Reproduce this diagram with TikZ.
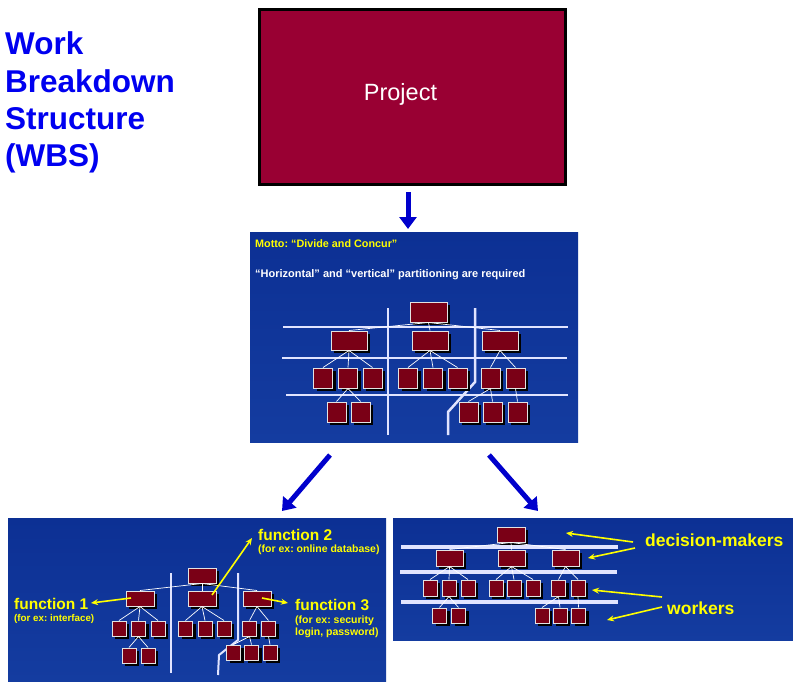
\documentclass[tikz,border=0pt]{standalone}
\usepackage{fontspec}
\setmainfont{Liberation Sans}
\usetikzlibrary{arrows.meta}
\frenchspacing

\definecolor{titleblue}{RGB}{0,0,240}
\definecolor{projred}{RGB}{153,0,51}
\definecolor{boxred}{RGB}{122,0,22}
\definecolor{slideblue}{RGB}{20,60,160}
\definecolor{slidetop}{RGB}{12,48,148}
\definecolor{arrowblue}{RGB}{0,0,204}
\definecolor{labelyellow}{RGB}{255,255,0}
\definecolor{gridline}{RGB}{225,228,255}

\tikzset{
  wbox/.style={draw=white!78!gray, line width=1pt, fill=boxred, inner sep=0pt,
    preaction={fill=black, transform canvas={shift={(3pt,-3pt)}}}},
  conn/.style={draw=white, line width=0.7pt},
  pline/.style={draw=gridline, line width=2.5pt},
  panel/.style={top color=slidetop, bottom color=slideblue, draw=none, inner sep=0pt, anchor=north west},
  bigarrow/.style={draw=arrowblue, line width=5pt, -{Triangle[width=17pt,length=12pt]}},
  yarrow/.style={draw=labelyellow, line width=1.6pt, -{Stealth[width=6pt,length=7pt]}},
  txt/.style={anchor=base west, inner sep=0pt},
  ylab/.style={txt, text=labelyellow, font=\fontsize{15.5}{18}\selectfont\bfseries},
  ysmall/.style={txt, text=labelyellow, font=\fontsize{10.5}{12}\selectfont\bfseries},
  ybig/.style={txt, text=labelyellow, font=\fontsize{17.5}{21}\selectfont\bfseries},
}

% a small org-chart box: name, centre x, centre y, width, height
\newcommand\bx[5]{\node[wbox, minimum width=#4pt, minimum height=#5pt] (#1) at (#2,#3) {};}

\begin{document}
\begin{tikzpicture}[x=1pt, y=-1pt]
\useasboundingbox[fill=white] (0,0) rectangle (793,681);

% title
\foreach \w/\yy [count=\i] in {Work/54, Breakdown/92.5, Structure/129.5, (WBS)/166}
  {\node[txt, text=titleblue, font=\fontsize{31.5}{37}\selectfont\bfseries] (title\i) at (5,\yy) {\w};}

% project box
\node[draw=black, line width=2.5pt, fill=projred, minimum width=306pt, minimum height=175pt,
      anchor=north west, inner sep=0pt] (proj) at (258,8) {};
\node[anchor=base, inner sep=0pt, text=white, font=\fontsize{23.5}{28}\selectfont] (projtxt) at (400.5,100) {Project};

% ---------------- middle slide ----------------
\node[panel, minimum width=328pt, minimum height=210pt] (mid) at (250,232) {};
\node[txt, text=labelyellow, font=\fontsize{10.8}{12}\selectfont\bfseries] (motto) at (255,247) {Motto: “Divide and Concur”};
\node[txt, text=white, font=\fontsize{11}{12}\selectfont\bfseries] (part) at (255,277) {“Horizontal” and “vertical” partitioning are required};

\draw[pline] (283,327) -- (568,327);
\draw[pline] (282,358) -- (567,358);
\draw[pline] (286,395) -- (568,395);
\draw[pline] (388,308) -- (388,435);
\draw[pline] (475,308) -- (475,382) -- (448,412) -- (448,435);

\bx{mT}{428.5}{312}{37}{20}
\bx{mA}{349}{340.5}{36}{19}
\bx{mB}{430}{340.5}{36}{19}
\bx{mC}{500}{340.5}{36}{19}
\foreach \n/\cx in {1/323, 2/348, 3/372.5, 4/408, 5/433, 6/457.5, 7/490.5, 8/515.5}
  {\bx{m\n}{\cx}{378}{19}{20}}
\foreach \n/\cx in {1/336.5, 2/360.5, 3/468.5, 4/492.5, 5/517.5}
  {\bx{n\n}{\cx}{412}{19}{20}}

\foreach \a/\b in {mT/mA, mT/mB, mT/mC, mA/m1, mA/m2, mA/m3, mB/m4, mB/m5, mB/m6,
                   mC/m7, mC/m8, m2/n1, m2/n2, m7/n3, m7/n4, m8/n5}
  {\draw[conn] (\a.south) -- (\b.north);}

% ---------------- lower left slide ----------------
\node[panel, minimum width=378pt, minimum height=163pt] (left) at (8,518) {};
\draw[pline, line width=2pt] (171,573) -- (171,673);
\draw[pline, line width=2pt] (238,573) -- (238,640) -- (219,655) -- (218,675);

\bx{lT}{202}{575.5}{28}{15}
\bx{lA}{140}{598.5}{28}{15}
\bx{lB}{202}{598.5}{28}{15}
\bx{lC}{257}{598.5}{28}{15}
\foreach \n/\cx in {1/119, 2/138.5, 3/158, 4/185.5, 5/205, 6/224, 7/249.5, 8/268.5}
  {\bx{l\n}{\cx}{628.5}{14}{15}}
\bx{k1}{129}{655.5}{14}{15}
\bx{k2}{148}{655.5}{14}{15}
\bx{k3}{233.5}{652.5}{14}{15}
\bx{k4}{251.5}{652.5}{14}{15}
\bx{k5}{270}{652.5}{14}{15}

\foreach \a/\b in {lT/lA, lT/lB, lT/lC, lA/l1, lA/l2, lA/l3, lB/l4, lB/l5, lB/l6,
                   lC/l7, lC/l8, l2/k1, l2/k2, l7/k3, l7/k4, l8/k5}
  {\draw[conn] (\a.south) -- (\b.north);}

\node[ylab] (f1) at (14,609) {function 1};
\node[ysmall, font=\fontsize{9.8}{12}\selectfont\bfseries] (f1s) at (14,621.5) {(for ex: interface)};
\node[ylab] (f2) at (258,540) {function 2};
\node[ysmall] (f2s) at (258,552) {(for ex: online database)};
\node[ylab] (f3) at (295,610) {function 3};
\node[ysmall] (f3s) at (295,623.5) {(for ex: security};
\node[ysmall] (f3t) at (295,635.5) {login, password)};

\coordinate (f1a) at (131,598);  \coordinate (f1b) at (91,603);
\coordinate (f2a) at (212,595);  \coordinate (f2b) at (252,538);
\coordinate (f3a) at (262,598);  \coordinate (f3b) at (288,603);
\draw[yarrow] (f1a) -- (f1b);
\draw[yarrow] (f2a) -- (f2b);
\draw[yarrow] (f3a) -- (f3b);

% ---------------- lower right slide ----------------
\node[panel, minimum width=400pt, minimum height=122pt] (right) at (393,518) {};
\draw[pline, line width=3.5pt] (401,547) -- (618,547);
\draw[pline, line width=3.5pt] (400,572) -- (617,572);
\draw[pline, line width=3.5pt] (401,602) -- (618,602);

\bx{rT}{511}{534.5}{28}{15}
\bx{rA}{449.5}{558}{27}{16}
\bx{rB}{511.5}{558}{27}{16}
\bx{rC}{565.5}{558}{27}{16}
\foreach \n/\cx in {1/430, 2/449, 3/468, 4/496, 5/514, 6/533, 7/558.5, 8/578}
  {\bx{r\n}{\cx}{588}{14}{16}}
\foreach \n/\cx in {1/439.5, 2/458.5, 3/542, 4/560, 5/578.5}
  {\bx{s\n}{\cx}{615.5}{14}{15}}

\foreach \a/\b in {rT/rA, rT/rB, rT/rC, rA/r1, rA/r2, rA/r3, rB/r4, rB/r5, rB/r6,
                   rC/r7, rC/r8, r2/s1, r2/s2, r7/s3, r7/s4, r8/s5}
  {\draw[conn] (\a.south) -- (\b.north);}

\node[ybig] (dm) at (645,546) {decision-makers};
\node[ybig] (wk) at (667,614) {workers};

\coordinate (d1a) at (633,542);  \coordinate (d1b) at (566,533);
\coordinate (d2a) at (635,548);  \coordinate (d2b) at (588,558);
\coordinate (w1a) at (662,597);  \coordinate (w1b) at (592,590);
\coordinate (w2a) at (662,607);  \coordinate (w2b) at (607,620);
\draw[yarrow] (d1a) -- (d1b);
\draw[yarrow] (d2a) -- (d2b);
\draw[yarrow] (w1a) -- (w1b);
\draw[yarrow] (w2a) -- (w2b);

% ---------------- blue flow arrows ----------------
\coordinate (a0s) at (408,192);  \coordinate (a0e) at (408,229);
\coordinate (a1s) at (330,455);  \coordinate (a1e) at (282,511);
\coordinate (a2s) at (489,455);  \coordinate (a2e) at (538,511);
\draw[bigarrow] (a0s) -- (a0e);
\draw[bigarrow] (a1s) -- (a1e);
\draw[bigarrow] (a2s) -- (a2e);
\end{tikzpicture}
\end{document}
